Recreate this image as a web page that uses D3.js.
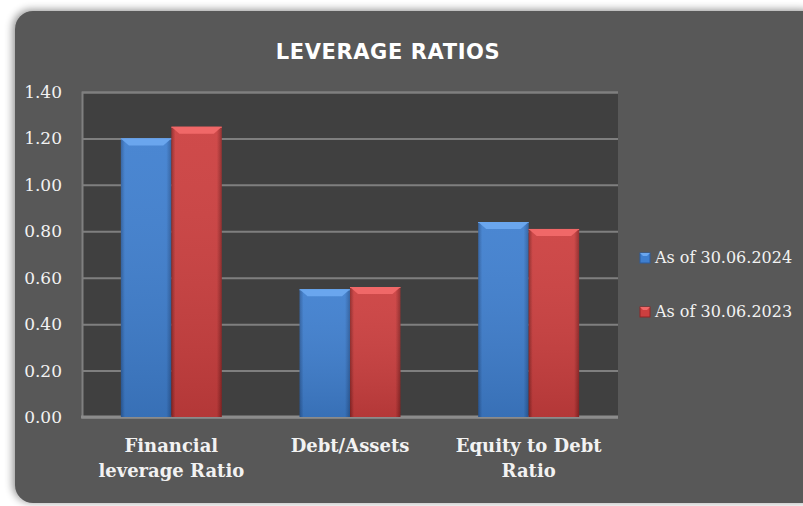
<!DOCTYPE html>
<html>
<head>
<meta charset="utf-8">
<script src="https://cdn.jsdelivr.net/npm/d3@7"></script>
<style>
  html, body { margin: 0; padding: 0; background: #ffffff; }
  svg { display: block; }
</style>
</head>
<body>
<svg width="803" height="506"></svg>
<script>
var categories = [["Financial", "leverage Ratio"], ["Debt/Assets"], ["Equity to Debt", "Ratio"]]
var seriesNames = ["As of 30.06.2024", "As of 30.06.2023"]
var values2024 = [1.20, 0.55, 0.84]
var values2023 = [1.25, 0.56, 0.81]
var yTicks = [0, 0.2, 0.4, 0.6, 0.8, 1.0, 1.2, 1.4]

var width = 803
var height = 506
var plot = {left: 82, top: 92, right: 618, bottom: 417}
var colors = {
  blue: {mid: "#3f7fcf", light: "#6aa6ee", dark: "#2c5d9e"},
  red: {mid: "#cc3f3f", light: "#f06868", dark: "#8e2626"}
}

var svg = d3.select("svg")
var defs = svg.append("defs")

var shadow = defs.append("filter").attr("id", "shadow")
  .attr("x", "-5%").attr("y", "-5%").attr("width", "110%").attr("height", "110%")
shadow.append("feGaussianBlur").attr("in", "SourceAlpha").attr("stdDeviation", 4)
shadow.append("feOffset").attr("dx", -2).attr("dy", -1).attr("result", "blur")
shadow.append("feComponentTransfer").append("feFuncA").attr("type", "linear").attr("slope", 0.45)
var merge = shadow.append("feMerge")
merge.append("feMergeNode")
merge.append("feMergeNode").attr("in", "SourceGraphic")

// bar gradients (a bit of bevel look)
Object.keys(colors).forEach(k => {
  var c = colors[k]
  var g = defs.append("linearGradient").attr("id", "grad-" + k)
    .attr("x1", 0).attr("y1", 0).attr("x2", 1).attr("y2", 0)
  g.append("stop").attr("offset", "0%").attr("stop-color", c.dark)
  g.append("stop").attr("offset", "8%").attr("stop-color", c.mid)
  g.append("stop").attr("offset", "90%").attr("stop-color", c.mid)
  g.append("stop").attr("offset", "100%").attr("stop-color", c.dark)
  var v = defs.append("linearGradient").attr("id", "vgrad-" + k)
    .attr("x1", 0).attr("y1", 0).attr("x2", 0).attr("y2", 1)
  v.append("stop").attr("offset", "0%").attr("stop-color", "#fff").attr("stop-opacity", 0.06)
  v.append("stop").attr("offset", "100%").attr("stop-color", "#000").attr("stop-opacity", 0.12)
})

// card
svg.append("rect")
  .attr("x", 15).attr("y", 11)
  .attr("width", 806).attr("height", 492)
  .attr("rx", 18)
  .attr("fill", "#595959")
  .attr("filter", "url(#shadow)")

svg.append("text")
  .attr("x", 388).attr("y", 59)
  .attr("text-anchor", "middle")
  .style("font-family", "DejaVu Sans")
  .style("font-weight", "bold")
  .style("font-size", "21px")
  .style("letter-spacing", "0.6px")
  .attr("fill", "#ffffff")
  .text("LEVERAGE RATIOS")

var x0 = d3.scaleBand().domain(d3.range(categories.length))
  .range([plot.left, plot.right]).paddingInner(0.435).paddingOuter(0.2175)
var x1 = d3.scaleBand().domain([0, 1]).range([0, x0.bandwidth()])
var y = d3.scaleLinear().domain([0, 1.4]).range([plot.bottom, plot.top])

svg.append("rect")
  .attr("x", plot.left).attr("y", plot.top)
  .attr("width", plot.right - plot.left).attr("height", plot.bottom - plot.top)
  .attr("fill", "#404040")

var yAxis = d3.axisLeft(y).tickValues(yTicks).tickFormat(d3.format(".2f"))
  .tickSize(-(plot.right - plot.left)).tickPadding(20)
var gy = svg.append("g").attr("transform", `translate(${plot.left},0)`).call(yAxis)
gy.select(".domain").attr("stroke", "#808080").attr("stroke-width", 2)
gy.selectAll(".tick line").attr("stroke", "#7f7f7f").attr("stroke-width", 2)
gy.selectAll(".tick text")
  .attr("fill", "#f2f2f2")
  .attr("x", -20)
  .style("font-family", "DejaVu Serif")
  .style("font-size", "17px")

// bottom axis line
svg.append("line")
  .attr("x1", plot.left - 1).attr("x2", plot.right)
  .attr("y1", y(0)).attr("y2", y(0))
  .attr("stroke", "#8c8c8c").attr("stroke-width", 3)

var seriesValues = [values2024, values2023]
var seriesKeys = ["blue", "red"]

seriesValues.forEach((vals, si) => {
  var key = seriesKeys[si]
  var c = colors[key]
  var g = svg.append("g").attr("class", "series-" + key)
  vals.forEach((v, i) => {
    var bx = x0(i) + x1(si)
    var bw = x1.bandwidth()
    var by = y(v)
    var bh = y(0) - y(v)
    g.append("rect")
      .attr("x", bx).attr("y", by).attr("width", bw).attr("height", bh)
      .attr("fill", `url(#grad-${key})`)
    g.append("rect")
      .attr("x", bx).attr("y", by).attr("width", bw).attr("height", bh)
      .attr("fill", `url(#vgrad-${key})`)
    // top bevel
    g.append("path")
      .attr("d", `M${bx},${by} L${bx + bw},${by} L${bx + bw - 8},${by + 7} L${bx + 8},${by + 7} Z`)
      .attr("fill", c.light)
    g.append("line")
      .attr("x1", bx).attr("x2", bx + bw).attr("y1", by + 0.5).attr("y2", by + 0.5)
      .attr("stroke", c.light).attr("stroke-width", 1)
  })
})

// category labels
categories.forEach((lines, i) => {
  var t = svg.append("text")
    .attr("x", x0(i) + x0.bandwidth() / 2)
    .attr("y", 452)
    .attr("text-anchor", "middle")
    .attr("fill", "#f2f2f2")
    .style("font-family", "DejaVu Serif")
    .style("font-weight", "bold")
    .style("font-size", "18px")
  lines.forEach((l, j) => {
    t.append("tspan").attr("x", x0(i) + x0.bandwidth() / 2).attr("dy", j === 0 ? 0 : 25).text(l)
  })
})

// legend
var legend = svg.append("g").attr("transform", "translate(640,253)")
seriesNames.forEach((name, i) => {
  var key = seriesKeys[i]
  var row = legend.append("g").attr("transform", `translate(0,${i * 54})`)
  row.append("rect").attr("width", 10).attr("height", 10).attr("fill", colors[key].mid)
    .attr("stroke", colors[key].dark).attr("stroke-width", 1)
  row.append("path").attr("d", "M0,0 L10,0 L7,3 L3,3 Z").attr("fill", colors[key].light)
  row.append("text")
    .attr("x", 15).attr("y", 10)
    .attr("fill", "#f2f2f2")
    .style("font-family", "DejaVu Serif")
    .style("font-size", "16px")
    .text(name)
})
</script>
</body>
</html>
